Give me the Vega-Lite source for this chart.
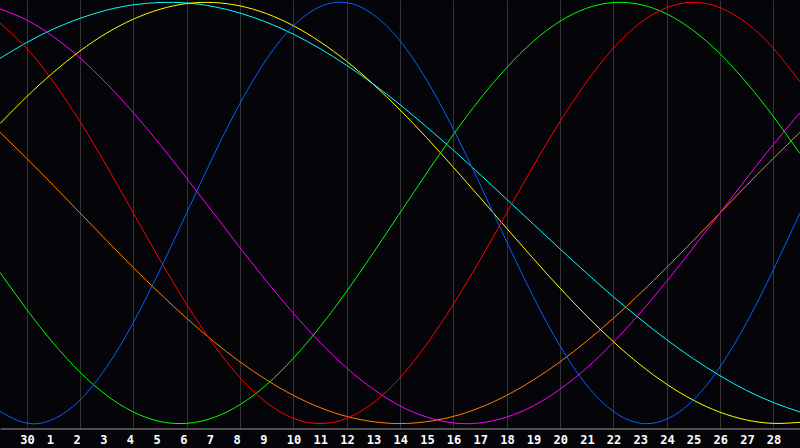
{
  "$schema": "https://vega.github.io/schema/vega-lite/v6.json",
  "autosize": "none",
  "width": 800,
  "height": 428,
  "padding": {"left": 0, "top": 0, "right": 0, "bottom": 20},
  "background": "#050408",
  "config": {"view": {"stroke": null}},
  "datasets": {
    "days": [
      {"t":1,"lab":"30"},{"t":2,"lab":"1"},{"t":3,"lab":"2"},{"t":4,"lab":"3"},{"t":5,"lab":"4"},{"t":6,"lab":"5"},{"t":7,"lab":"6"},{"t":8,"lab":"7"},{"t":9,"lab":"8"},{"t":10,"lab":"9"},{"t":11,"lab":"10"},{"t":12,"lab":"11"},{"t":13,"lab":"12"},{"t":14,"lab":"13"},{"t":15,"lab":"14"},{"t":16,"lab":"15"},{"t":17,"lab":"16"},{"t":18,"lab":"17"},{"t":19,"lab":"18"},{"t":20,"lab":"19"},{"t":21,"lab":"20"},{"t":22,"lab":"21"},{"t":23,"lab":"22"},{"t":24,"lab":"23"},{"t":25,"lab":"24"},{"t":26,"lab":"25"},{"t":27,"lab":"26"},{"t":28,"lab":"27"},{"t":29,"lab":"28"}
    ],
    "curves": [
      {"s":"S","t":0,"v":0.734},{"s":"S","t":1,"v":0.809},{"s":"S","t":2,"v":0.873},{"s":"S","t":3,"v":0.924},{"s":"S","t":4,"v":0.963},{"s":"S","t":5,"v":0.988},{"s":"S","t":6,"v":0.999},{"s":"S","t":7,"v":0.997},{"s":"S","t":8,"v":0.980},{"s":"S","t":9,"v":0.949},{"s":"S","t":10,"v":0.905},{"s":"S","t":11,"v":0.849},{"s":"S","t":12,"v":0.780},{"s":"S","t":13,"v":0.701},{"s":"S","t":14,"v":0.612},{"s":"S","t":15,"v":0.514},{"s":"S","t":16,"v":0.408},{"s":"S","t":17,"v":0.298},{"s":"S","t":18,"v":0.183},{"s":"S","t":19,"v":0.065},{"s":"S","t":20,"v":-0.053},{"s":"S","t":21,"v":-0.171},{"s":"S","t":22,"v":-0.286},{"s":"S","t":23,"v":-0.398},{"s":"S","t":24,"v":-0.503},{"s":"S","t":25,"v":-0.602},{"s":"S","t":26,"v":-0.692},{"s":"S","t":27,"v":-0.773},{"s":"S","t":28,"v":-0.843},{"s":"S","t":29,"v":-0.900},{"s":"S","t":30,"v":-0.945},
      {"s":"W","t":0,"v":0.383},{"s":"W","t":1,"v":0.259},{"s":"W","t":2,"v":0.131},{"s":"W","t":3,"v":0.0},{"s":"W","t":4,"v":-0.131},{"s":"W","t":5,"v":-0.259},{"s":"W","t":6,"v":-0.383},{"s":"W","t":7,"v":-0.5},{"s":"W","t":8,"v":-0.609},{"s":"W","t":9,"v":-0.707},{"s":"W","t":10,"v":-0.793},{"s":"W","t":11,"v":-0.866},{"s":"W","t":12,"v":-0.924},{"s":"W","t":13,"v":-0.966},{"s":"W","t":14,"v":-0.991},{"s":"W","t":15,"v":-1.0},{"s":"W","t":16,"v":-0.991},{"s":"W","t":17,"v":-0.966},{"s":"W","t":18,"v":-0.924},{"s":"W","t":19,"v":-0.866},{"s":"W","t":20,"v":-0.793},{"s":"W","t":21,"v":-0.707},{"s":"W","t":22,"v":-0.609},{"s":"W","t":23,"v":-0.5},{"s":"W","t":24,"v":-0.383},{"s":"W","t":25,"v":-0.259},{"s":"W","t":26,"v":-0.131},{"s":"W","t":27,"v":0.0},{"s":"W","t":28,"v":0.131},{"s":"W","t":29,"v":0.259},{"s":"W","t":30,"v":0.383},
      {"s":"N","t":0,"v":0.969},{"s":"N","t":1,"v":0.916},{"s":"N","t":2,"v":0.837},{"s":"N","t":3,"v":0.736},{"s":"N","t":4,"v":0.614},{"s":"N","t":5,"v":0.476},{"s":"N","t":6,"v":0.325},{"s":"N","t":7,"v":0.165},{"s":"N","t":8,"v":0.0},{"s":"N","t":9,"v":-0.165},{"s":"N","t":10,"v":-0.325},{"s":"N","t":11,"v":-0.476},{"s":"N","t":12,"v":-0.614},{"s":"N","t":13,"v":-0.736},{"s":"N","t":14,"v":-0.837},{"s":"N","t":15,"v":-0.916},{"s":"N","t":16,"v":-0.969},{"s":"N","t":17,"v":-0.997},{"s":"N","t":18,"v":-0.997},{"s":"N","t":19,"v":-0.969},{"s":"N","t":20,"v":-0.916},{"s":"N","t":21,"v":-0.837},{"s":"N","t":22,"v":-0.736},{"s":"N","t":23,"v":-0.614},{"s":"N","t":24,"v":-0.476},{"s":"N","t":25,"v":-0.325},{"s":"N","t":26,"v":-0.165},{"s":"N","t":27,"v":0.0},{"s":"N","t":28,"v":0.165},{"s":"N","t":29,"v":0.325},{"s":"N","t":30,"v":0.476},
      {"s":"A","t":0,"v":0.424},{"s":"A","t":1,"v":0.552},{"s":"A","t":2,"v":0.667},{"s":"A","t":3,"v":0.769},{"s":"A","t":4,"v":0.854},{"s":"A","t":5,"v":0.920},{"s":"A","t":6,"v":0.967},{"s":"A","t":7,"v":0.994},{"s":"A","t":8,"v":0.999},{"s":"A","t":9,"v":0.983},{"s":"A","t":10,"v":0.946},{"s":"A","t":11,"v":0.889},{"s":"A","t":12,"v":0.813},{"s":"A","t":13,"v":0.720},{"s":"A","t":14,"v":0.611},{"s":"A","t":15,"v":0.489},{"s":"A","t":16,"v":0.357},{"s":"A","t":17,"v":0.217},{"s":"A","t":18,"v":0.073},{"s":"A","t":19,"v":-0.073},{"s":"A","t":20,"v":-0.217},{"s":"A","t":21,"v":-0.357},{"s":"A","t":22,"v":-0.489},{"s":"A","t":23,"v":-0.611},{"s":"A","t":24,"v":-0.720},{"s":"A","t":25,"v":-0.813},{"s":"A","t":26,"v":-0.889},{"s":"A","t":27,"v":-0.946},{"s":"A","t":28,"v":-0.983},{"s":"A","t":29,"v":-0.999},{"s":"A","t":30,"v":-0.994},
      {"s":"I","t":0,"v":-0.282},{"s":"I","t":1,"v":-0.458},{"s":"I","t":2,"v":-0.618},{"s":"I","t":3,"v":-0.756},{"s":"I","t":4,"v":-0.866},{"s":"I","t":5,"v":-0.945},{"s":"I","t":6,"v":-0.990},{"s":"I","t":7,"v":-0.999},{"s":"I","t":8,"v":-0.972},{"s":"I","t":9,"v":-0.910},{"s":"I","t":10,"v":-0.815},{"s":"I","t":11,"v":-0.690},{"s":"I","t":12,"v":-0.541},{"s":"I","t":13,"v":-0.372},{"s":"I","t":14,"v":-0.189},{"s":"I","t":15,"v":0.0},{"s":"I","t":16,"v":0.189},{"s":"I","t":17,"v":0.372},{"s":"I","t":18,"v":0.541},{"s":"I","t":19,"v":0.690},{"s":"I","t":20,"v":0.815},{"s":"I","t":21,"v":0.910},{"s":"I","t":22,"v":0.972},{"s":"I","t":23,"v":0.999},{"s":"I","t":24,"v":0.990},{"s":"I","t":25,"v":0.945},{"s":"I","t":26,"v":0.866},{"s":"I","t":27,"v":0.756},{"s":"I","t":28,"v":0.618},{"s":"I","t":29,"v":0.458},{"s":"I","t":30,"v":0.282},
      {"s":"E","t":0,"v":0.901},{"s":"E","t":1,"v":0.782},{"s":"E","t":2,"v":0.623},{"s":"E","t":3,"v":0.434},{"s":"E","t":4,"v":0.223},{"s":"E","t":5,"v":0.0},{"s":"E","t":6,"v":-0.223},{"s":"E","t":7,"v":-0.434},{"s":"E","t":8,"v":-0.623},{"s":"E","t":9,"v":-0.782},{"s":"E","t":10,"v":-0.901},{"s":"E","t":11,"v":-0.975},{"s":"E","t":12,"v":-1.0},{"s":"E","t":13,"v":-0.975},{"s":"E","t":14,"v":-0.901},{"s":"E","t":15,"v":-0.782},{"s":"E","t":16,"v":-0.623},{"s":"E","t":17,"v":-0.434},{"s":"E","t":18,"v":-0.223},{"s":"E","t":19,"v":0.0},{"s":"E","t":20,"v":0.223},{"s":"E","t":21,"v":0.434},{"s":"E","t":22,"v":0.623},{"s":"E","t":23,"v":0.782},{"s":"E","t":24,"v":0.901},{"s":"E","t":25,"v":0.975},{"s":"E","t":26,"v":1.0},{"s":"E","t":27,"v":0.975},{"s":"E","t":28,"v":0.901},{"s":"E","t":29,"v":0.782},{"s":"E","t":30,"v":0.623},
      {"s":"P","t":0,"v":-0.942},{"s":"P","t":1,"v":-0.998},{"s":"P","t":2,"v":-0.979},{"s":"P","t":3,"v":-0.888},{"s":"P","t":4,"v":-0.731},{"s":"P","t":5,"v":-0.520},{"s":"P","t":6,"v":-0.270},{"s":"P","t":7,"v":0.0},{"s":"P","t":8,"v":0.270},{"s":"P","t":9,"v":0.520},{"s":"P","t":10,"v":0.731},{"s":"P","t":11,"v":0.888},{"s":"P","t":12,"v":0.979},{"s":"P","t":13,"v":0.998},{"s":"P","t":14,"v":0.942},{"s":"P","t":15,"v":0.817},{"s":"P","t":16,"v":0.631},{"s":"P","t":17,"v":0.398},{"s":"P","t":18,"v":0.136},{"s":"P","t":19,"v":-0.136},{"s":"P","t":20,"v":-0.398},{"s":"P","t":21,"v":-0.631},{"s":"P","t":22,"v":-0.817},{"s":"P","t":23,"v":-0.942},{"s":"P","t":24,"v":-0.998},{"s":"P","t":25,"v":-0.979},{"s":"P","t":26,"v":-0.888},{"s":"P","t":27,"v":-0.731},{"s":"P","t":28,"v":-0.520},{"s":"P","t":29,"v":-0.270},{"s":"P","t":30,"v":0.0}
    ]
  },
  "layer": [
    {
      "data": {"name": "curves"},
      "mark": {"type": "line", "strokeWidth": 1, "interpolate": "natural"},
      "encoding": {
        "x": {
          "field": "t", "type": "quantitative",
          "scale": {"domain": [0, 30], "nice": false, "zero": false},
          "axis": {
            "orient": "bottom", "title": null, "offset": 0.5,
            "values": [1,2,3,4,5,6,7,8,9,10,11,12,13,14,15,16,17,18,19,20,21,22,23,24,25,26,27,28,29],
            "labels": false, "ticks": false, "tickSize": 0,
            "domain": true, "domainColor": "#9a9a9a", "domainWidth": 1,
            "grid": true, "gridColor": "#333333", "gridWidth": 1
          }
        },
        "y": {
          "field": "v", "type": "quantitative",
          "scale": {"domain": [-1.021, 1.011], "nice": false, "zero": false},
          "axis": null
        },
        "color": {
          "field": "s", "type": "nominal",
          "scale": {
            "domain": ["S", "W", "N", "A", "I", "E", "P"],
            "range": ["#00ffff", "#ff8000", "#ff00ff", "#ffff00", "#00ff00", "#ff0000", "#0064ff"]
          },
          "legend": null
        },
        "order": {"field": "t", "type": "quantitative"}
      }
    },
    {
      "data": {"name": "days"},
      "mark": {"type": "text", "color": "#ffffff", "font": "DejaVu Sans Mono", "fontWeight": "bold", "fontSize": 12, "align": "left", "baseline": "top", "dx": -6.5, "dy": 6.5},
      "encoding": {
        "x": {"field": "t", "type": "quantitative"},
        "y": {"datum": -1.021},
        "text": {"field": "lab", "type": "nominal"}
      }
    },
    {
      "mark": {"type": "rule", "color": "#ffffff", "strokeWidth": 1.2},
      "encoding": {"x": {"datum": 15}}
    },
    {
      "mark": {"type": "rule", "color": "#ffffff", "strokeWidth": 1.2},
      "encoding": {"y": {"datum": 0}}
    },
    {
      "mark": {"type": "rule", "color": "#9a9a9a", "strokeWidth": 2},
      "encoding": {"x": {"datum": 0}}
    },
    {
      "mark": {"type": "rule", "color": "#9a9a9a", "strokeWidth": 2},
      "encoding": {"y": {"datum": 1.011}}
    }
  ]
}
